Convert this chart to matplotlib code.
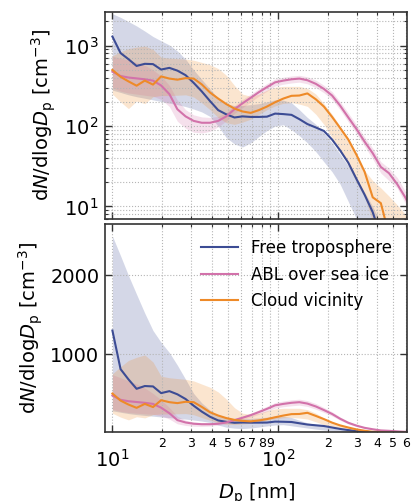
import numpy as np
import matplotlib
matplotlib.use('Agg')
import matplotlib.pyplot as plt
from matplotlib.ticker import LogLocator, FuncFormatter, NullFormatter, FixedLocator

# particle diameter grid [nm]
dp = [10.0, 11.2, 12.5, 14.0, 15.7, 17.6, 19.7, 22.1, 24.7, 27.7, 31.0, 34.7, 38.9, 43.6,
      48.8, 54.7, 61.2, 68.6, 76.8, 86.0, 96.3, 108, 121, 135, 151, 170, 190, 213, 238,
      267, 299, 335, 375, 420, 470, 527, 590, 661]

# Free troposphere
ft_med = [1300, 810, 680, 560, 595, 590, 505, 530, 490, 430, 345, 270, 205, 158,
          140, 128, 132, 130, 130, 131, 143, 141, 138, 122, 106, 96, 87, 68, 50,
          35, 22, 14, 8.5, 4.2, 2.4, 1.5, 1.0, 0.7]
ft_hi = [2500, 2250, 2000, 1760, 1520, 1300, 1150, 1020, 860, 680, 500, 380, 290, 220,
         190, 180, 180, 185, 190, 200, 212, 210, 195, 160, 128, 105, 82, 62, 45,
         32, 22, 15, 10, 6, 4, 2.5, 1.6, 1.2]
ft_lo = [280, 262, 245, 232, 222, 212, 202, 193, 185, 175, 163, 150, 132, 100,
         72, 60, 55, 62, 74, 88, 100, 104, 90, 76, 62, 48, 36, 27, 19,
         11.5, 7, 4, 2.5, 1.5, 1.0, 0.6, 0.4, 0.3]

# ABL over sea ice
abl_med = [475, 420, 402, 392, 382, 368, 320, 250, 162, 132, 116, 110, 110, 116,
           132, 162, 192, 225, 264, 305, 350, 368, 382, 390, 372, 335, 290, 240, 180,
           128, 92, 64, 46, 31, 26, 19, 13, 8]
abl_hi = [740, 700, 660, 620, 570, 500, 420, 320, 210, 160, 138, 130, 128, 132,
          148, 180, 214, 250, 292, 338, 385, 405, 420, 428, 410, 372, 322, 268, 202,
          145, 104, 73, 53, 36, 30, 23, 15.5, 10]
abl_lo = [300, 272, 258, 250, 242, 235, 215, 175, 115, 94, 84, 82, 86, 98,
          116, 144, 170, 200, 236, 272, 315, 332, 344, 352, 336, 300, 260, 214, 160,
          113, 81, 56, 39, 26, 21, 17, 11, 6.5]

# Cloud vicinity
cv_med = [500, 410, 360, 318, 368, 328, 415, 390, 378, 395, 390, 330, 262, 220,
          188, 165, 152, 146, 158, 175, 198, 220, 238, 240, 255, 215, 175, 130, 95,
          68, 44, 27, 13, 11, 4.5, 2.5, 1.5, 1.0]
cv_hi = [750, 840, 920, 960, 990, 900, 720, 700, 690, 680, 660, 620, 580, 520,
         430, 320, 250, 235, 250, 280, 305, 312, 312, 312, 295, 250, 190, 140, 100,
         68, 44, 28, 21, 17, 13.5, 10.5, 8, 6]
cv_lo = [250, 200, 165, 205, 190, 232, 240, 240, 242, 245, 230, 195, 160, 128,
         110, 105, 112, 122, 140, 160, 178, 192, 196, 188, 176, 140, 105, 72, 50,
         32, 20, 13, 6.5, 3.5, 2.0, 1.2, 0.8, 0.5]

labels = ['Free troposphere', 'ABL over sea ice', 'Cloud vicinity']
colors = ['#3c4c94', '#d272aa', '#ee8a28']

series = [(ft_med, ft_lo, ft_hi), (abl_med, abl_lo, abl_hi), (cv_med, cv_lo, cv_hi)]

fig = plt.figure(figsize=(4.11, 5.01), dpi=100)
ax1 = fig.add_axes([0.2555, 0.563, 0.7355, 0.4137])
ax2 = fig.add_axes([0.2555, 0.1371, 0.7355, 0.4152])

for ax in [ax1, ax2]:
    for (med, lo, hi), lab, col in zip(series, labels, colors):
        ax.fill_between(dp, lo, hi, color=col, alpha=0.22, linewidth=0)
    for (med, lo, hi), lab, col in zip(series, labels, colors):
        ax.plot(dp, med, color=col, linewidth=1.5, label=lab)
    ax.set_xscale('log')
    ax.set_xlim(9.02, 607)
    ax.set_ylim(7, 2650)
    ax.xaxis.set_major_locator(LogLocator(base=10))
    ax.xaxis.set_minor_locator(LogLocator(base=10, subs=np.arange(2, 10)))
    ax.tick_params(which='both', direction='in', top=True, right=True, colors='#333333',
                   labelcolor='black')
    ax.tick_params(which='major', length=5, width=1, labelsize=14)
    ax.tick_params(which='minor', length=2.5, width=0.8)
    ax.grid(True, which='both', axis='x', linestyle=':', color='#b5b5b5', linewidth=0.8)
    for sp in ax.spines.values():
        sp.set_color('#333333')
        sp.set_linewidth(1.2)
    ax.set_ylabel(r'd$N$/dlog$D_\mathrm{p}$ [cm$^{-3}$]', fontsize=14)

# top panel: log y
ax1.set_yscale('log')
ax1.set_ylim(7, 2650)
ax1.grid(True, which='both', axis='y', linestyle=':', color='#b5b5b5', linewidth=0.8)
ax1.xaxis.set_major_formatter(NullFormatter())
ax1.xaxis.set_minor_formatter(NullFormatter())
ax1.tick_params(axis='y', which='major', pad=5)

# bottom panel: linear y
ax2.yaxis.set_major_locator(FixedLocator([1000, 2000]))
ax2.grid(True, which='major', axis='y', linestyle=':', color='#b5b5b5', linewidth=0.8)
ax2.tick_params(axis='y', which='major', pad=4)


def minor_label(x, pos):
    if x < 9.5:
        return ''
    lead = x / 10 ** np.floor(np.log10(x) + 1e-9)
    return '%d' % round(lead)


ax2.xaxis.set_minor_formatter(FuncFormatter(minor_label))
ax2.tick_params(axis='x', which='minor', labelsize=9, pad=3.5)
ax2.tick_params(axis='x', which='major', pad=12)
ax2.set_xlabel(r'$D_\mathrm{p}$ [nm]', fontsize=14, labelpad=8)

ax2.legend(loc='upper right', frameon=False, fontsize=12, handlelength=2.2)

fig.savefig('out.png', dpi=100)
